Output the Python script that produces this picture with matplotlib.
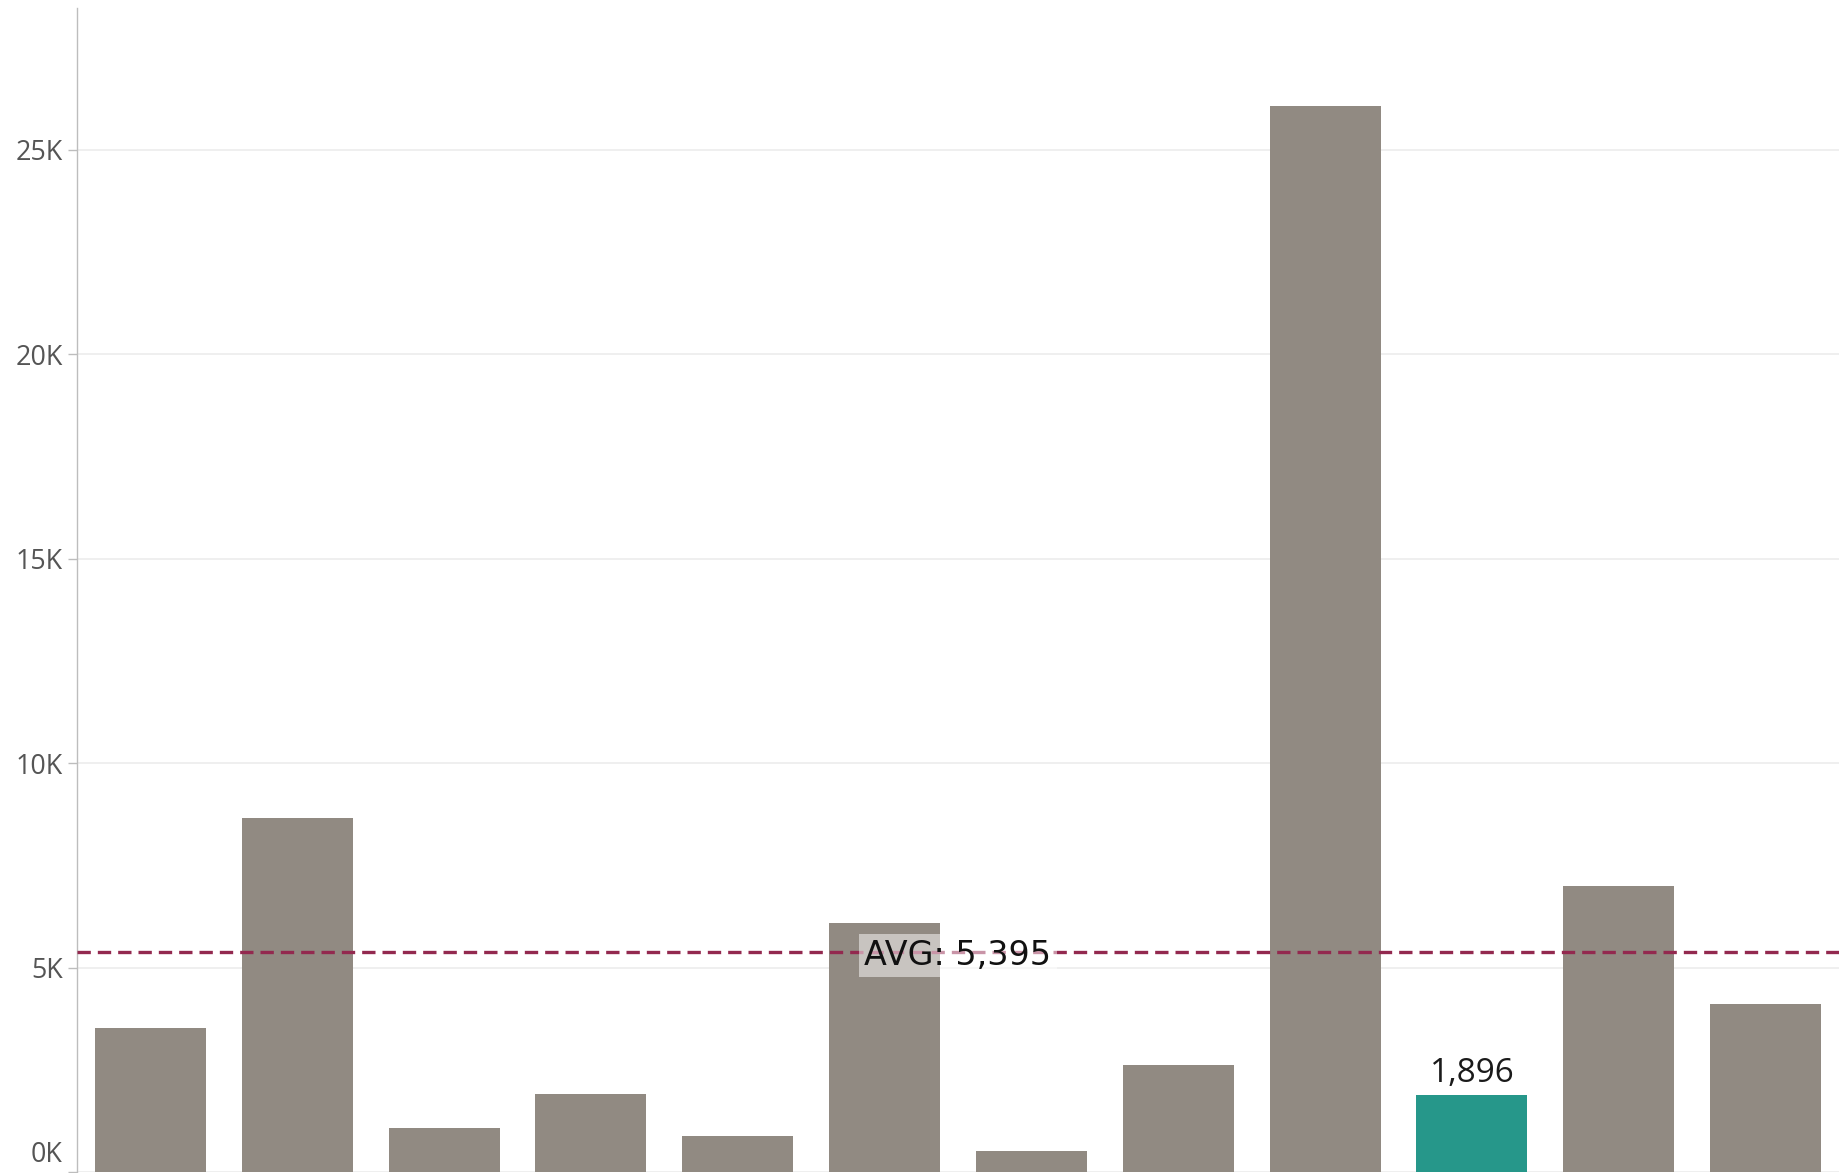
import matplotlib
matplotlib.use('Agg')
import matplotlib.pyplot as plt
import matplotlib.transforms as mtransforms
from matplotlib.ticker import FuncFormatter

# bar values, left to right
values = [3529, 8664, 1083, 1915, 888, 6097, 521, 2624, 26076, 1896, 7001, 4116]
highlight = 9          # bar drawn in teal and labelled
avg_value = 5395       # reference line value
yticks = [0, 5000, 10000, 15000, 20000, 25000]

BAR_GREY = '#918a82'
TEAL = '#26978a'
AVG_RED = '#93294f'
AXIS_GREY = '#bdbdbd'

W, H = 1849, 1173
fig = plt.figure(figsize=(W / 100, H / 100), dpi=100)
ax = fig.add_axes([77 / W, 0.7 / H, (1839 - 77) / W, (1172.3 - 8.3) / H])

x = list(range(len(values)))
colors = [TEAL if i == highlight else BAR_GREY for i in x]
ax.bar(x, values, width=0.755, color=colors, linewidth=0, zorder=2)

ax.set_xlim(-0.5, len(values) - 0.5)
ax.set_ylim(0, 28465)

# average reference line with its label centred across the pane
ax.axhline(avg_value, color=AVG_RED, lw=2.4, dashes=(4, 2.1), zorder=3)
blend = mtransforms.blended_transform_factory(ax.transAxes, ax.transData)
ax.annotate(f'AVG: {avg_value:,}', (0.5, avg_value), xycoords=blend,
            xytext=(0, -2.6), textcoords='offset points',
            ha='center', va='center', fontsize=24, family='DejaVu Sans',
            color='#111111', zorder=4,
            bbox=dict(boxstyle='square,pad=0.15', fc='white', ec='none', alpha=0.5))

# value label on the highlighted bar
ax.annotate(f'{values[highlight]:,}', (highlight, values[highlight]),
            xytext=(0, 9.4), textcoords='offset points', ha='center',
            va='baseline', fontsize=24, family='Open Sans', color='#1a1a1a',
            zorder=4)

# axes styling
for side in ('top', 'right', 'bottom'):
    ax.spines[side].set_visible(False)
ax.spines['left'].set_color(AXIS_GREY)
ax.spines['left'].set_linewidth(1.0)
ax.set_xticks([])
ax.set_yticks(yticks)
ax.yaxis.set_major_formatter(FuncFormatter(lambda v, _: f'{v / 1000:.0f}K'))
ax.tick_params(axis='y', length=6.5, width=1.0, color=AXIS_GREY, pad=3.6,
               labelsize=19.4, labelcolor='#555555')
for lab in ax.get_yticklabels():
    lab.set_family('Open Sans')

# keep the zero label inside the figure, lifted off the baseline
zero_lab = ax.yaxis.get_major_ticks()[0].label1
zero_lab.set_verticalalignment('bottom')
zero_lab.set_transform(zero_lab.get_transform()
                       + mtransforms.ScaledTranslation(0, 2.5 / 72, fig.dpi_scale_trans))

ax.yaxis.grid(True, color='#ececec', lw=1.2)
ax.set_axisbelow(True)

fig.savefig('out.png', dpi=100, facecolor='white')
